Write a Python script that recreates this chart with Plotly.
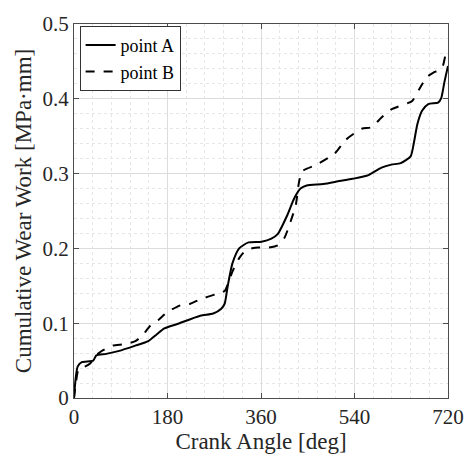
import plotly.graph_objects as go

# Point A (solid)
angle_a = [0, 3, 7, 15, 37, 43, 62, 87, 118, 143, 159, 174, 199, 243, 268, 283, 290, 296, 305, 318,
           336, 361, 380, 392, 411, 424, 436, 448, 480, 511, 536, 567, 592, 611, 629, 648, 654, 661,
           670, 682, 701, 707, 713, 720]
wear_a = [0, 0.025, 0.042, 0.048, 0.050, 0.057, 0.059, 0.063, 0.070, 0.076, 0.085, 0.093, 0.099, 0.110,
          0.113, 0.119, 0.126, 0.150, 0.180, 0.200, 0.208, 0.209, 0.213, 0.219, 0.245, 0.267, 0.280,
          0.284, 0.286, 0.290, 0.293, 0.298, 0.308, 0.312, 0.314, 0.323, 0.340, 0.366, 0.384, 0.393,
          0.395, 0.401, 0.422, 0.444]

# Point B (dashed)
angle_b = [0, 4, 9, 21, 31, 40, 46, 56, 74, 99, 118, 131, 146, 162, 180, 205, 224, 243, 274, 290, 296,
           305, 318, 330, 349, 374, 392, 405, 417, 427, 433, 439, 467, 502, 523, 554, 573, 592, 611,
           642, 651, 664, 679, 692, 701, 710, 717, 720]
wear_b = [0, 0.022, 0.039, 0.042, 0.046, 0.055, 0.059, 0.064, 0.070, 0.072, 0.076, 0.083, 0.096, 0.104,
          0.115, 0.124, 0.126, 0.132, 0.139, 0.143, 0.152, 0.169, 0.187, 0.197, 0.201, 0.201, 0.204,
          0.214, 0.236, 0.258, 0.288, 0.303, 0.312, 0.327, 0.345, 0.360, 0.362, 0.375, 0.386, 0.394,
          0.397, 0.412, 0.429, 0.435, 0.438, 0.444, 0.464, 0.466]

x_ticks = [0, 180, 360, 540, 720]
y_ticks = [0, 0.1, 0.2, 0.3, 0.4, 0.5]

font_family = "Liberation Serif"
txt = "#262626"

fig = go.Figure()
fig.add_trace(go.Scatter(x=angle_a, y=wear_a, mode="lines", name="point A",
                         line=dict(color="black", width=2, shape="spline", smoothing=0.6)))
fig.add_trace(go.Scatter(x=angle_b, y=wear_b, mode="lines", name="point B",
                         line=dict(color="black", width=2, dash="dash", shape="spline", smoothing=0.6)))

axis_common = dict(
    showline=True, linecolor="#4d4d4d", linewidth=1, mirror="ticks",
    ticks="inside", ticklen=5, tickcolor="#4d4d4d",
    showgrid=True, gridcolor="#dcdcdc", gridwidth=1,
    zeroline=False,
    tickfont=dict(family=font_family, size=21, color=txt),
)

fig.update_layout(
    width=476, height=459,
    margin=dict(l=74, r=17, t=17, b=57),
    paper_bgcolor="white", plot_bgcolor="white",
    font=dict(family=font_family, color=txt),
    showlegend=True,
    legend=dict(x=0.015, y=0.995, xanchor="left", yanchor="top",
                bgcolor="white", bordercolor="#333333", borderwidth=1,
                font=dict(family=font_family, size=18, color="black"),
                tracegroupgap=0, itemwidth=30),
    xaxis=dict(range=[0, 720], tickvals=x_ticks, ticktext=[str(v) for v in x_ticks],
               title=dict(text="Crank Angle [deg]", font=dict(family=font_family, size=23, color=txt), standoff=2),
               minor=dict(dtick=36, showgrid=True, gridcolor="#e6e6e6", griddash="dot", ticks=""),
               **axis_common),
    yaxis=dict(range=[0, 0.5], tickvals=y_ticks, ticktext=["0", "0.1", "0.2", "0.3", "0.4", "0.5"],
               title=dict(text="Cumulative Wear Work [MPa·mm]", font=dict(family=font_family, size=23, color=txt), standoff=4),
               minor=dict(dtick=0.02, showgrid=True, gridcolor="#e6e6e6", griddash="dot", ticks=""),
               **axis_common),
)

fig.write_html("out.html")
